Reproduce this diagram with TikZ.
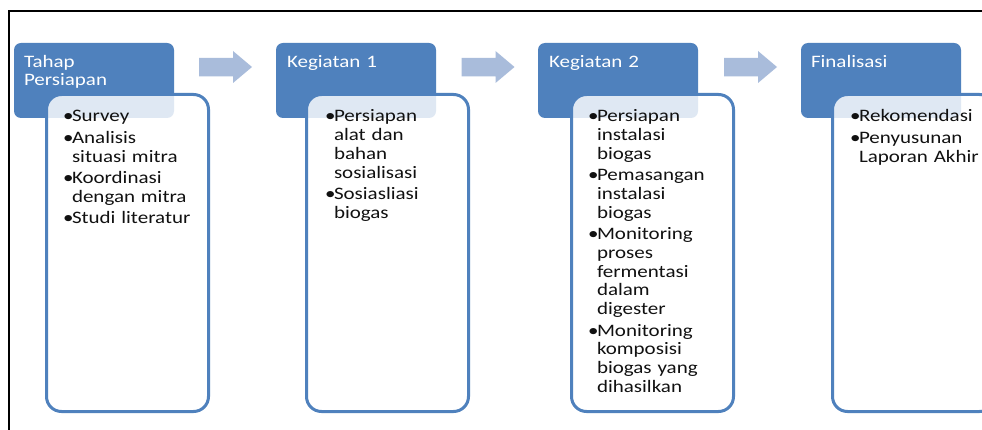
\documentclass[tikz,border=0pt]{standalone}
\usepackage{fontspec}
\setmainfont{Carlito}[FakeStretch=1.2]
\usetikzlibrary{calc}
\definecolor{hdr}{HTML}{4F81BD}
\definecolor{arw}{HTML}{A9BCDB}
\definecolor{txt}{HTML}{111111}
\newcommand{\bitem}[1]{\par\noindent\hangindent=9pt\hangafter=1\makebox[9pt][l]{\textbullet}#1\par}
\begin{document}
\begin{tikzpicture}[x=1pt,y=-1pt,
  hdrbox/.style={fill=hdr, rounded corners=7pt, minimum width=160pt, minimum height=75pt, anchor=north west, inner sep=0pt, outer sep=0pt},
  cntbox/.style={draw=hdr, line width=3pt, fill=white, fill opacity=0.82, rounded corners=15pt, minimum width=162pt, minimum height=317pt, anchor=north west, inner sep=0pt, outer sep=0pt},
  hdrtext/.style={text=white, text width=150pt, anchor=north west, inner sep=0pt, outer sep=0pt, align=left, font={\fontsize{17.5}{18.7}\selectfont}},
  cnttext/.style={text=txt, text width=150pt, anchor=north west, inner sep=0pt, outer sep=0pt, align=left, font={\fontsize{17.5}{18.7}\selectfont\setlength{\parskip}{2.8pt}}},
  blockarrow/.style={fill=arw}
]
\useasboundingbox (0,0) rectangle (982,430);
\fill[white] (0,0) rectangle (982,430);
% frame
\draw[line width=2.3pt] (9.2,430) -- (9.2,11.2) -- (982,11.2);

% stage 1
\node[hdrbox] (h1) at (14,43) {};
\node[cntbox] (c1) at (46.5,94.5) {};
\node[hdrtext] (ht1) at (24,54) {\strut Tahap\newline Persiapan};
\node[cnttext] (t1) at (63,100.5) {\bitem{\strut Survey}\bitem{Analisis\newline situasi mitra}\bitem{Koordinasi\newline dengan mitra}\bitem{Studi literatur}};

% stage 2
\node[hdrbox] (h2) at (276,43) {};
\node[cntbox] (c2) at (306.5,94.5) {};
\node[hdrtext] (ht2) at (287,54) {\strut Kegiatan 1};
\node[cnttext] (t2) at (325,100.5) {\bitem{\strut Persiapan\newline alat dan\newline bahan\newline sosialisasi}\bitem{Sosiasliasi\newline biogas}};

% stage 3
\node[hdrbox] (h3) at (538,43) {};
\node[cntbox] (c3) at (571.5,94.5) {};
\node[hdrtext] (ht3) at (549,54) {\strut Kegiatan 2};
\node[cnttext] (t3) at (588,100.5) {\bitem{\strut Persiapan\newline instalasi\newline biogas}\bitem{Pemasangan\newline instalasi\newline biogas}\bitem{Monitoring\newline proses\newline fermentasi\newline dalam\newline digester}\bitem{Monitoring\newline komposisi\newline biogas yang\newline dihasilkan}};

% stage 4
\node[hdrbox] (h4) at (801,43) {};
\node[cntbox] (c4) at (832.5,94.5) {};
\node[hdrtext] (ht4) at (811,54) {\strut Finalisasi};
\node[cnttext] (t4) at (850,100.5) {\bitem{\strut Rekomendasi}\bitem{Penyusunan\newline Laporan Akhir}};

% block arrows
\coordinate (a1) at (199,58);
\coordinate (a2) at (461.5,58);
\coordinate (a3) at (724,58);
\foreach \a in {a1,a2,a3}{
  \fill[blockarrow] (\a) -- ++(34,0) -- ++(0,-7) -- ++(19,16) -- ++(-19,16) -- ++(0,-6.5) -- ++(-34,0) -- cycle;
}
\end{tikzpicture}
\end{document}
